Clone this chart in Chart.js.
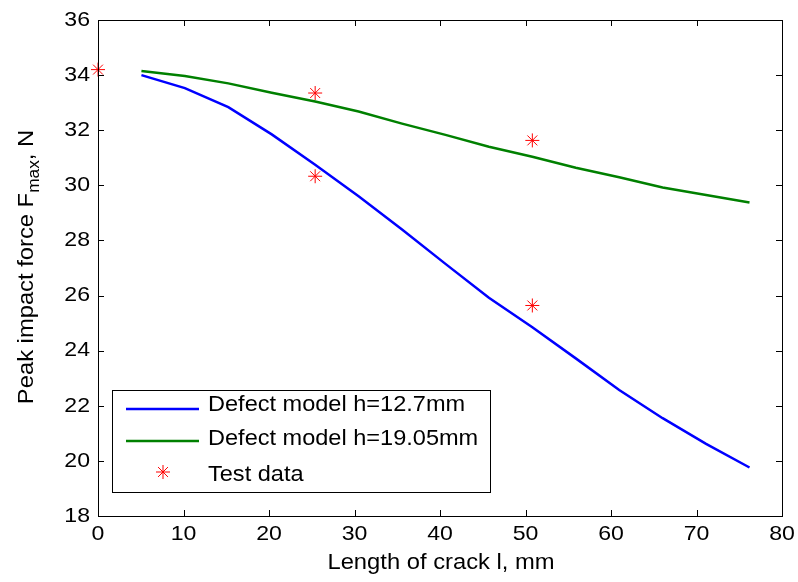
<!DOCTYPE html>
<html>
<head>
<meta charset="utf-8">
<script src="https://cdn.jsdelivr.net/npm/chart.js@4.4.1/dist/chart.umd.min.js"></script>
<style>
  html, body { margin: 0; padding: 0; background: #fff; }
  #wrap { width: 798px; height: 582px; }
</style>
</head>
<body>
<div id="wrap"><canvas id="crack-chart"></canvas></div>
<script>
// crack length (mm) for the two model curves
var crackLength = [5.08, 10.16, 15.24, 20.32, 25.4, 30.48, 35.56, 40.64, 45.72, 50.8, 55.88, 60.96, 66.04, 71.12, 76.2];
var modelThin = [34.0, 33.53, 32.84, 31.85, 30.75, 29.6, 28.4, 27.15, 25.92, 24.85, 23.72, 22.57, 21.55, 20.62, 19.76];
var modelThick = [34.15, 33.97, 33.7, 33.36, 33.04, 32.68, 32.24, 31.83, 31.4, 31.04, 30.64, 30.29, 29.92, 29.65, 29.38];
var testLength = [0, 25.4, 25.4, 50.8, 50.8];
var testForce = [34.2, 33.35, 30.33, 31.63, 25.64];
var seriesNames = ['Defect model h=12.7mm', 'Defect model h=19.05mm', 'Test data'];

function pairs(xs, ys) {
    return xs.map(function (x, i) { return {x: x, y: ys[i]}; });
}

var FAMILY = '"Liberation Sans", Arial, sans-serif';

// matlab export is a bit wider than tall, so text gets stretched
function wideText(c, txt, x, y, align, sx) {
    c.save();
    c.translate(x, y);
    c.scale(sx, 1);
    c.textAlign = align;
    c.fillText(txt, 0, 0);
    c.restore();
}

var matlabFrame = {
    id: 'matlab-frame',
    afterDraw: function (chart) {
        var c = chart.ctx, a = chart.chartArea;
        var xs = chart.scales.x, ys = chart.scales.y;
        c.save();
        c.strokeStyle = '#000';
        c.lineWidth = 1;
        c.strokeRect(a.left + 0.5, a.top + 0.5, a.right - a.left, a.bottom - a.top);
        c.beginPath();
        xs.ticks.forEach(function (t) {
            var px = Math.round(xs.getPixelForValue(t.value)) + 0.5;
            c.moveTo(px, a.bottom); c.lineTo(px, a.bottom - 6);
            c.moveTo(px, a.top); c.lineTo(px, a.top + 6);
        });
        ys.ticks.forEach(function (t) {
            var py = Math.round(ys.getPixelForValue(t.value)) + 0.5;
            c.moveTo(a.left, py); c.lineTo(a.left + 6, py);
            c.moveTo(a.right, py); c.lineTo(a.right - 6, py);
        });
        c.stroke();

        // tick labels
        c.fillStyle = '#000';
        c.font = '21px ' + FAMILY;
        c.textBaseline = 'middle';
        xs.ticks.forEach(function (t) {
            wideText(c, String(t.value), xs.getPixelForValue(t.value), a.bottom + 18, 'center', 1.1);
        });
        ys.ticks.forEach(function (t) {
            wideText(c, String(t.value), a.left - 8, ys.getPixelForValue(t.value), 'right', 1.1);
        });

        // axis titles
        c.font = '22px ' + FAMILY;
        wideText(c, 'Length of crack l, mm', 441, 563, 'center', 1.08);

        c.save();
        c.translate(33, 267);
        c.rotate(-Math.PI / 2);
        c.scale(1.08, 1);
        c.textBaseline = 'alphabetic';
        c.textAlign = 'left';
        var p1 = 'Peak impact force F', sub = 'max', p2 = ', N';
        c.font = '22px ' + FAMILY;
        var w1 = c.measureText(p1).width, w3 = c.measureText(p2).width;
        c.font = '16px ' + FAMILY;
        var w2 = c.measureText(sub).width;
        var start = -(w1 + w2 + w3) / 2;
        c.font = '22px ' + FAMILY;
        c.fillText(p1, start, 0);
        c.font = '16px ' + FAMILY;
        c.fillText(sub, start + w1, 6);
        c.font = '22px ' + FAMILY;
        c.fillText(p2, start + w1 + w2, 0);
        c.restore();

        // legend box
        var lx = 112, ly = 390, lw = 378, lh = 102;
        c.fillStyle = '#fff';
        c.fillRect(lx, ly, lw, lh);
        c.strokeRect(lx + 0.5, ly + 0.5, lw, lh);
        var rows = [409, 441, 472];
        var textRows = [405, 439, 475];
        var colors = ['#0000ff', '#008000'];
        c.lineWidth = 2.5;
        for (var i = 0; i < 2; i++) {
            c.strokeStyle = colors[i];
            c.beginPath();
            c.moveTo(126, rows[i]); c.lineTo(199, rows[i]);
            c.stroke();
        }
        // asterisk marker for test data
        c.strokeStyle = '#ff0000';
        c.lineWidth = 1;
        c.beginPath();
        var r = 7, sx = 163, sy = rows[2];
        for (var k = 0; k < 4; k++) {
            var ang = k * Math.PI / 4;
            c.moveTo(sx - r * Math.cos(ang), sy - r * Math.sin(ang));
            c.lineTo(sx + r * Math.cos(ang), sy + r * Math.sin(ang));
        }
        c.stroke();
        c.fillStyle = '#000';
        c.font = '22px ' + FAMILY;
        c.textBaseline = 'middle';
        seriesNames.forEach(function (n, i) { wideText(c, n, 208, textRows[i], 'left', 1.07); });
        c.restore();
    }
};

var chart = new Chart(document.getElementById('crack-chart'), {
    type: 'line',
    data: {
        datasets: [{
                label: seriesNames[0],
                data: pairs(crackLength, modelThin),
                borderColor: '#0000ff',
                borderWidth: 2.5,
                pointRadius: 0,
                tension: 0,
                fill: false
            }, {
                label: seriesNames[1],
                data: pairs(crackLength, modelThick),
                borderColor: '#008000',
                borderWidth: 2.5,
                pointRadius: 0,
                tension: 0,
                fill: false
            }, {
                label: seriesNames[2],
                data: pairs(testLength, testForce),
                showLine: false,
                pointStyle: 'star',
                pointRadius: 7,
                borderColor: '#ff0000',
                backgroundColor: '#ff0000',
                pointBorderWidth: 1,
                clip: false
            }]
    },
    options: {
        responsive: true,
        maintainAspectRatio: false,
        animation: false,
        layout: {padding: {left: 0, right: 16, top: 20, bottom: 0}},
        plugins: {legend: {display: false}, tooltip: {enabled: false}},
        scales: {
            x: {
                type: 'linear',
                min: 0,
                max: 80,
                grid: {display: false},
                border: {display: false},
                ticks: {stepSize: 10, display: false},
                afterFit: function (s) { s.height = 66; }
            },
            y: {
                min: 18,
                max: 36,
                grid: {display: false},
                border: {display: false},
                ticks: {stepSize: 2, display: false},
                afterFit: function (s) { s.width = 98; }
            }
        }
    },
    plugins: [matlabFrame]
});
</script>
</body>
</html>
